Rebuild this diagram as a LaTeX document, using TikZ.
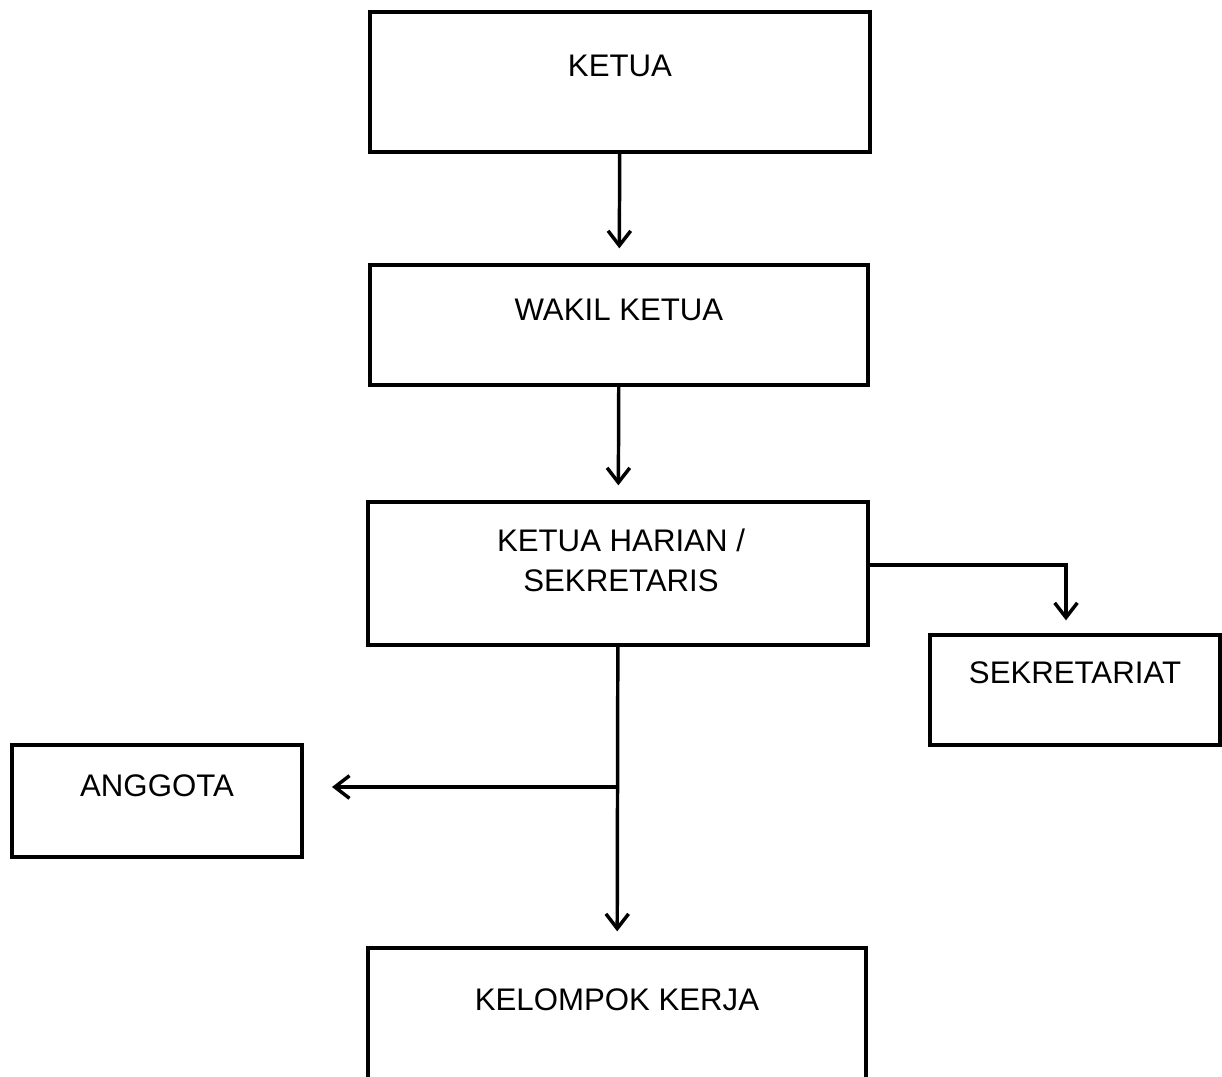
\documentclass[tikz,border=0pt]{standalone}
\usepackage{fontspec}
\setmainfont{Liberation Sans}
\usetikzlibrary{arrows.meta,fit}

\tikzset{
  box/.style={draw, line width=3pt, inner sep=0pt},
  lbl/.style={font=\fontsize{23.4pt}{30pt}\selectfont, align=center, inner sep=0pt},
  arr/.style={line width=2.6pt, -{Straight Barb[length=11pt,width=17pt,line width=2.6pt]}, shorten >=11pt}
}

\begin{document}
\begin{tikzpicture}[x=0.75pt,y=0.75pt,yscale=-1,xscale=1]
\useasboundingbox (0,0) rectangle (1222,1076);

% boxes
\node [box, fit={(370,12) (870,152)}]   (ketua) {};
\node [box, fit={(370,265) (868,385)}]  (wakil) {};
\node [box, fit={(368,502) (868,645)}]  (harian) {};
\node [box, fit={(930,635) (1220,745)}] (sekret) {};
\node [box, fit={(12,745) (302,857)}]   (anggota) {};
\node [box, fit={(368,948) (866,1100)}] (pokja) {};

% texts
\draw (620,66)   node [lbl] (ketuaT)   {KETUA};
\draw (619,310)  node [lbl] (wakilT)   {WAKIL KETUA};
\draw (621,560)  node [lbl] (harianT)  {KETUA HARIAN /\\SEKRETARIS};
\draw (1075,673) node [lbl] (sekretT)  {SEKRETARIAT};
\draw (157,786)  node [lbl] (anggotaT) {ANGGOTA};
\draw (617,1000) node [lbl] (pokjaT)   {KELOMPOK KERJA};

% connectors
\coordinate (tosek) at (1066,635);
\coordinate (branch) at (harian.south |- 0,787);
\draw [arr] (ketua) -- (wakil);
\draw [arr] (wakil) -- (harian);
\draw [arr] (harian.east |- 0,565) -| (tosek);
\draw [arr] (harian) -- (pokja);
\draw [arr, shorten >=21pt] (branch) -- (anggota.east |- branch);

\end{tikzpicture}
\end{document}
